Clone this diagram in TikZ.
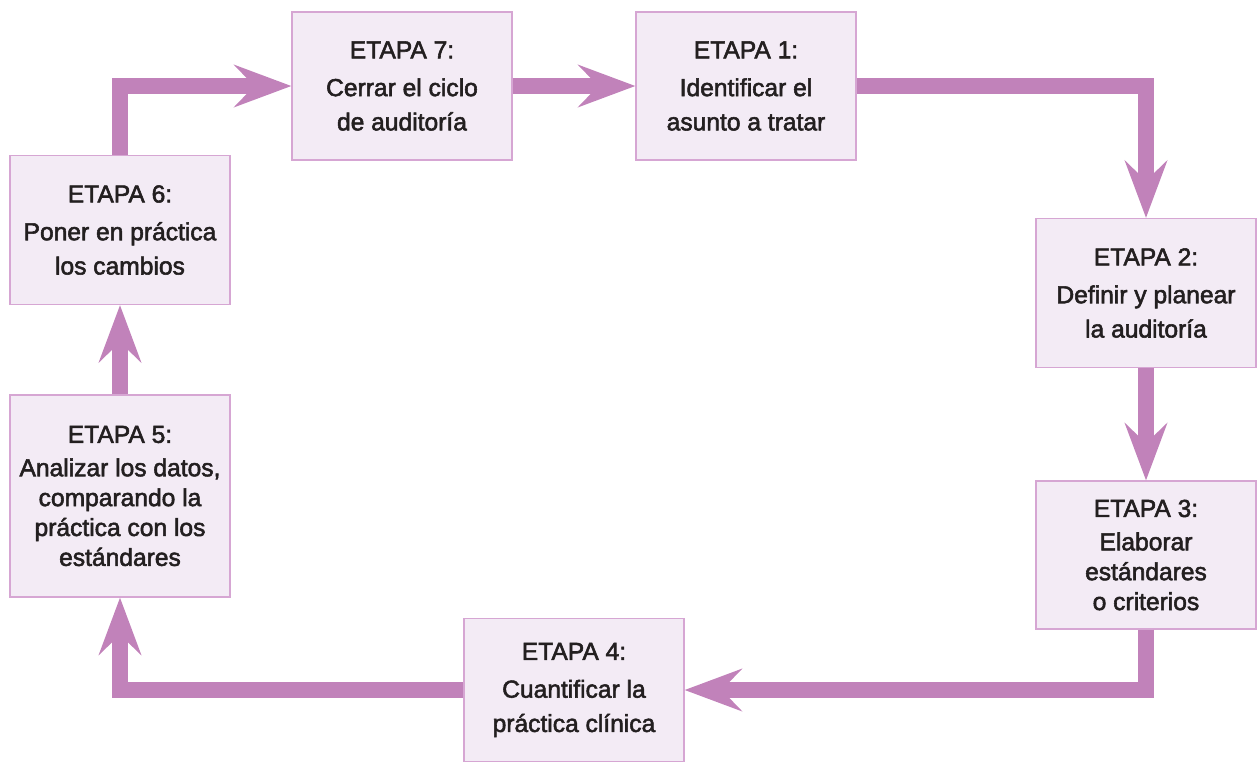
\documentclass[tikz,border=0pt]{standalone}
\usepackage{fontspec}
\setmainfont{Liberation Sans}[BoldFont=Liberation Sans, BoldFeatures={FakeBold=2.2}]
\usetikzlibrary{arrows.meta}
\definecolor{boxfill}{HTML}{F3EBF5}
\definecolor{boxline}{HTML}{D6A6D3}
\definecolor{flowcol}{HTML}{C182BA}
\definecolor{ink}{HTML}{231F20}
\newcommand{\etapa}[2]{ETAPA #1:\\[2pt]#2}

\begin{document}
\begin{tikzpicture}[x=0.02cm, y=-0.02cm, >={Stealth[length=1.14cm, width=0.84cm, inset=0.4cm]},
    etapa/.style={draw=boxline, fill=boxfill, line width=0.7pt, minimum width=4.4cm, align=center, text=ink, font=\fontsize{14}{19.5}\selectfont\bfseries},
    tight/.style={font=\fontsize{14}{17}\selectfont\bfseries},
    flow/.style={->, draw=flowcol, line width=0.32cm}]
    \useasboundingbox (0,0) rectangle (1259,762);

    \node[etapa, minimum height=2.96cm] (e7) at (402,86) {\etapa{7}{Cerrar el ciclo\\de auditoría}};
    \node[etapa, minimum height=2.96cm] (e1) at (746,86) {\etapa{1}{Identificar el\\asunto a tratar}};
    \node[etapa, minimum height=2.98cm] (e2) at (1146,293) {\etapa{2}{Definir y planear\\la auditoría}};
    \node[etapa, tight, minimum height=2.96cm] (e3) at (1146,555) {\etapa{3}{Elaborar\\estándares\\o criterios}};
    \node[etapa, minimum height=2.86cm] (e4) at (574,690) {\etapa{4}{Cuantificar la\\práctica clínica}};
    \node[etapa, tight, minimum height=4.04cm] (e5) at (120,496) {\etapa{5}{Analizar los datos,\\comparando la\\práctica con los\\estándares}};
    \node[etapa, minimum height=2.98cm] (e6) at (120,230) {\etapa{6}{Poner en práctica\\los cambios}};

    \draw[flow] (e7) -- (e1);
    \draw[flow] (e1.east) -| (e2.north);
    \draw[flow] (e2) -- (e3);
    \draw[flow] (e3.south) |- (e4.east);
    \draw[flow] (e4.west) -| (e5.south);
    \draw[flow] (e5) -- (e6);
    \draw[flow] (e6.north) |- (e7.west);
\end{tikzpicture}
\end{document}
